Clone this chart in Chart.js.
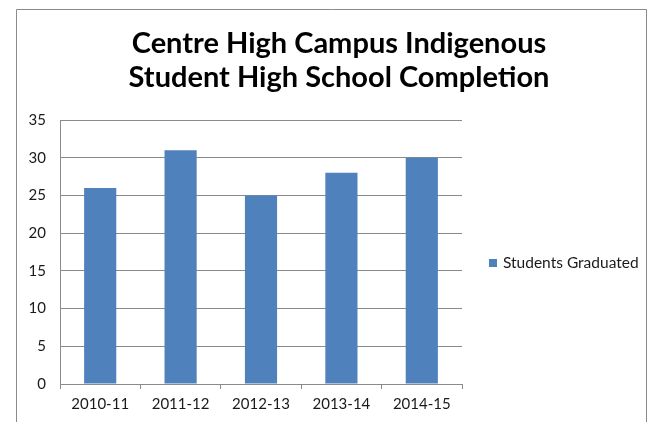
<!DOCTYPE html>
<html>
<head>
<meta charset="utf-8">
<script src="https://cdn.jsdelivr.net/npm/chart.js@4"></script>
<style>
  html, body { margin: 0; padding: 0; background: #ffffff; }
  #wrap { position: relative; width: 648px; height: 422px; }
</style>
</head>
<body>
<div id="wrap"><canvas id="c" width="648" height="422"></canvas></div>
<script>
const titleLines = ["Centre High Campus Indigenous", "Student High School Completion"];
const categories = ["2010-11", "2011-12", "2012-13", "2013-14", "2014-15"];
const seriesName = "Students Graduated";
const graduated = [26, 31, 25, 28, 30];
const yTicks = [0, 5, 10, 15, 20, 25, 30, 35];

const FONT = "Lato, 'Liberation Sans', sans-serif";

const framePlugin = {
  id: 'frame',
  beforeDraw(chart) {
    const ctx = chart.ctx;
    ctx.save();
    ctx.fillStyle = '#ffffff';
    ctx.fillRect(0, 0, chart.width, chart.height);
    ctx.strokeStyle = '#8a8a8a';
    ctx.lineWidth = 1;
    ctx.beginPath();
    ctx.moveTo(16.5, chart.height);
    ctx.lineTo(16.5, 9.5);
    ctx.lineTo(646.5, 9.5);
    ctx.lineTo(646.5, chart.height);
    ctx.stroke();
    ctx.restore();
  },
  afterDraw(chart) {
    const ctx = chart.ctx;
    ctx.save();
    // title
    ctx.fillStyle = '#000000';
    ctx.font = "bold 29px " + FONT;
    ctx.textAlign = 'center';
    ctx.textBaseline = 'alphabetic';
    ctx.fillText(titleLines[0], 339, 53);
    ctx.fillText(titleLines[1], 339, 87);
    // legend
    const ds = chart.data.datasets[0];
    ctx.fillStyle = ds.backgroundColor;
    ctx.fillRect(489, 259, 8, 8);
    ctx.fillStyle = '#1a1a1a';
    ctx.font = "15.5px " + FONT;
    ctx.textAlign = 'left';
    ctx.textBaseline = 'middle';
    ctx.fillText(ds.label, 503, 263);
    ctx.restore();
  }
};

new Chart(document.getElementById('c'), {
  type: 'bar',
  data: {
    labels: categories,
    datasets: [{
      label: seriesName,
      data: graduated,
      backgroundColor: '#4F81BD',
      borderWidth: 0,
      categoryPercentage: 1.0,
      barPercentage: 0.4
    }]
  },
  options: {
    responsive: false,
    animation: false,
    devicePixelRatio: 1,
    layout: { padding: { left: 0, right: 186, top: 120, bottom: 0 } },
    plugins: {
      legend: { display: false },
      title: { display: false },
      tooltip: { enabled: false }
    },
    scales: {
      x: {
        afterFit(scale) { scale.height = 38; },
        grid: {
          display: true,
          offset: true,
          drawOnChartArea: false,
          drawTicks: true,
          tickLength: 5,
          color: '#8a8a8a'
        },
        border: { display: true, color: '#8a8a8a' },
        ticks: {
          color: '#1a1a1a',
          font: { family: FONT, size: 15 },
          padding: 6,
          maxRotation: 0
        }
      },
      y: {
        min: 0,
        max: 35,
        afterFit(scale) { scale.width = 60; },
        afterBuildTicks(scale) { scale.ticks = yTicks.map(v => ({ value: v })); },
        grid: {
          display: true,
          drawTicks: false,
          color: '#8a8a8a'
        },
        border: { display: true, color: '#8a8a8a' },
        ticks: {
          color: '#1a1a1a',
          font: { family: FONT, size: 15 },
          padding: 14
        }
      }
    }
  },
  plugins: [framePlugin]
});
</script>
</body>
</html>
